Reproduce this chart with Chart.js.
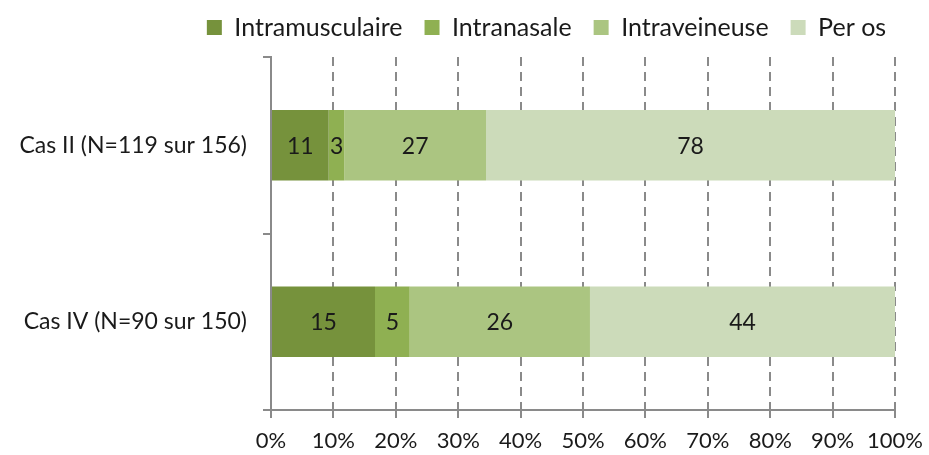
<!DOCTYPE html>
<html>
<head>
<meta charset="utf-8">
<script src="https://cdn.jsdelivr.net/npm/chart.js@4"></script>
<style>
  html, body { margin: 0; padding: 0; background: #fff; }
  #wrap { width: 929px; height: 455px; }
</style>
</head>
<body>
<div id="wrap"><canvas id="voies-chart"></canvas></div>
<script>
const categories = ["Cas II (N=119 sur 156)", "Cas IV (N=90 sur 150)"];
const seriesNames = ["Intramusculaire", "Intranasale", "Intraveineuse", "Per os"];
const intramusculaire = [11, 15];
const intranasale = [3, 5];
const intraveineuse = [27, 26];
const perOs = [78, 44];
const tickLabels = ["0%", "10%", "20%", "30%", "40%", "50%", "60%", "70%", "80%", "90%", "100%"];

const colors = ["#76923c", "#8fb052", "#abc581", "#ccdbba"];
const counts = [intramusculaire, intranasale, intraveineuse, perOs];
const totals = categories.map((c, i) => counts.reduce((s, arr) => s + arr[i], 0));

const FONT = "Lato";

// labels au centre des segments
const segLabels = {
  id: "segLabels",
  afterDatasetsDraw(chart) {
    const ctx = chart.ctx;
    ctx.save();
    ctx.font = "23px " + FONT;
    ctx.fillStyle = "#1a1a1a";
    ctx.textAlign = "center";
    ctx.textBaseline = "middle";
    chart.data.datasets.forEach((ds, di) => {
      chart.getDatasetMeta(di).data.forEach((bar, i) => {
        const p = bar.getProps(["x", "y", "base"], true);
        ctx.fillText(String(ds.counts[i]), (p.x + p.base) / 2, p.y + 1);
      });
    });
    ctx.restore();
  }
};

// la légende d'Excel est décalée vers la droite
const legendShift = {
  id: "legendShift",
  afterLayout(chart) {
    const l = chart.legend;
    l.left += 82; l.right += 82;
    l.top -= 7; l.bottom -= 7;
  }
};

const chart = new Chart(document.getElementById("voies-chart"), {
  type: "bar",
  data: {
    labels: categories,
    datasets: seriesNames.map((name, k) => ({
      label: name,
      counts: counts[k],
      data: counts[k].map((v, i) => v / totals[i] * 100),
      backgroundColor: colors[k],
      borderWidth: 0,
      barPercentage: 0.4,
      categoryPercentage: 1,
    })),
  },
  options: {
    indexAxis: "y",
    responsive: true,
    maintainAspectRatio: false,
    animation: false,
    layout: { padding: 0 },
    plugins: {
      tooltip: { enabled: false },
      legend: {
        position: "top",
        labels: {
          font: { family: FONT, size: 25 },
          color: "#1a1a1a",
          boxWidth: 15,
          boxHeight: 15,
          padding: 22,
        },
      },
    },
    scales: {
      x: {
        stacked: true,
        min: 0,
        max: 100,
        ticks: {
          stepSize: 10,
          padding: 10,
          color: "#1a1a1a",
          font: { family: FONT, size: 22 },
          callback: (v, i) => tickLabels[i],
        },
        grid: {
          color: "#8a8a8a",
          lineWidth: 2,
          tickLength: 8,
          tickBorderDash: [],
        },
        border: { color: "#8a8a8a", width: 2, dash: [9, 6] },
        afterFit: (s) => { s.height = 45; s.paddingRight -= 4; },
      },
      y: {
        stacked: true,
        ticks: {
          padding: 16,
          color: "#1a1a1a",
          font: { family: FONT, size: 23 },
        },
        grid: {
          drawOnChartArea: false,
          color: "#8a8a8a",
          lineWidth: 2,
          tickLength: 8,
        },
        border: { color: "#8a8a8a", width: 2 },
        afterFit: (s) => { s.width = 271; },
      },
    },
  },
  plugins: [segLabels, legendShift],
});
</script>
</body>
</html>
